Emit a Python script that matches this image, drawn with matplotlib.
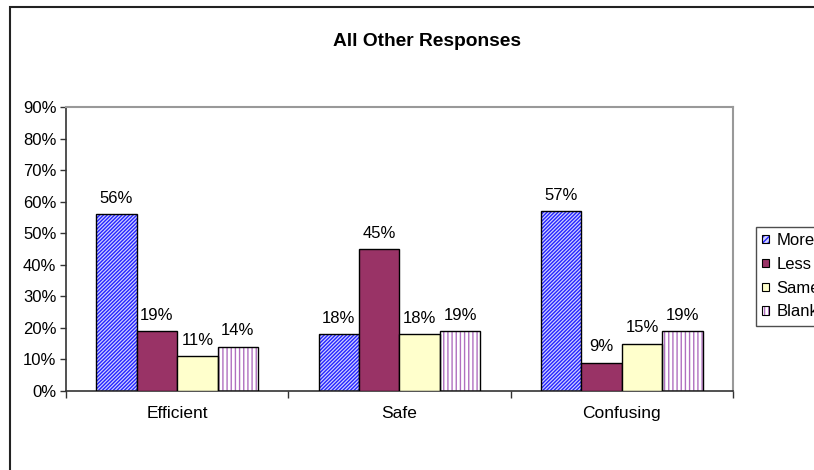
import matplotlib.pyplot as plt
import numpy as np
from matplotlib.legend_handler import HandlerTuple
from matplotlib.patches import Patch, Rectangle
from matplotlib.ticker import PercentFormatter

plt.rcParams["font.family"] = ["Liberation Sans", "DejaVu Sans"]
plt.rcParams["hatch.linewidth"] = 1.0

TITLE = "All Other Responses"
categories = ["Efficient", "Safe", "Confusing"]
series = ["More", "Less", "Same", "Blank"]
more = [56, 18, 57]
less = [19, 45, 9]
same = [11, 18, 15]
blank = [14, 19, 19]
values = [more, less, same, blank]

# face colour, hatch, hatch colour
STYLE = [
    ("#d0d0ff", "/////////", "#2424ff"),
    ("#993366", None, None),
    ("#ffffcc", None, None),
    ("#ffffff", "||||", "#b070c0"),
]
FS = 12

fig = plt.figure(figsize=(8.14, 4.70), dpi=100)
# chart border, running off the right and bottom edges
fig.patches.append(Rectangle((10 / 814, -0.1), 1.2, 1 - 7 / 470 + 0.1,
                             transform=fig.transFigure, fill=False,
                             edgecolor="#222222", linewidth=1.5))

ax = fig.add_axes([66 / 814, 79 / 470, 667 / 814, 284 / 470])

x = np.arange(len(categories))
width = 0.182
handles = []
for j, (name, vals) in enumerate(zip(series, values)):
    face, hatch, hcol = STYLE[j]
    pos = x + (j - 1.5) * width
    if hatch:
        ax.bar(pos, vals, width, color=face, hatch=hatch, edgecolor=hcol,
               linewidth=0, zorder=2)
        ax.bar(pos, vals, width, fill=False, edgecolor="black",
               linewidth=1.0, zorder=3)
        h = (Patch(facecolor=face, hatch=hatch[:6], edgecolor=hcol, linewidth=0),
             Patch(fill=False, edgecolor="black", linewidth=0.8))
    else:
        ax.bar(pos, vals, width, color=face, edgecolor="black",
               linewidth=1.0, zorder=3)
        h = Patch(facecolor=face, edgecolor="black", linewidth=0.8)
    handles.append(h)
    for px, v in zip(pos, vals):
        ax.annotate(f"{v}%", (px, v), xytext=(0, 6), textcoords="offset points",
                    ha="center", va="bottom", fontsize=FS)

ax.set_xlim(-0.5, 2.5)
ax.set_ylim(0, 90)
ax.set_yticks(np.arange(0, 91, 10))
ax.yaxis.set_major_formatter(PercentFormatter(decimals=0))
ax.tick_params(axis="y", direction="out", length=4, width=1, pad=3,
               labelsize=FS, color="#333333")

ax.set_xticks(x)
ax.set_xticklabels(categories, fontsize=12.5)
ax.set_xticks([-0.5, 0.5, 1.5, 2.5], minor=True)
ax.tick_params(axis="x", which="major", length=0, pad=11)
ax.tick_params(axis="x", which="minor", direction="out", length=5, width=1,
               color="#333333")

for s in ["left", "bottom"]:
    ax.spines[s].set_color("#333333")
    ax.spines[s].set_linewidth(1.2)
for s in ["top", "right"]:
    ax.spines[s].set_color("#999999")
    ax.spines[s].set_linewidth(1.5)

fig.text(0.524, 1 - 41 / 470, TITLE, ha="center", va="center",
         fontsize=13.8, fontweight="bold")

# legend sits against the right edge and runs past it
fig.legend(handles, series, loc="upper left",
           bbox_to_anchor=(756 / 814, 1 - 227 / 470),
           handler_map={tuple: HandlerTuple(ndivide=1, pad=0)},
           fontsize=FS, frameon=True, fancybox=False, edgecolor="#222222",
           handlelength=0.4, handleheight=0.4, handletextpad=0.48,
           labelspacing=0.53, borderpad=0.36, borderaxespad=0)

fig.savefig("out.png", dpi=100)
